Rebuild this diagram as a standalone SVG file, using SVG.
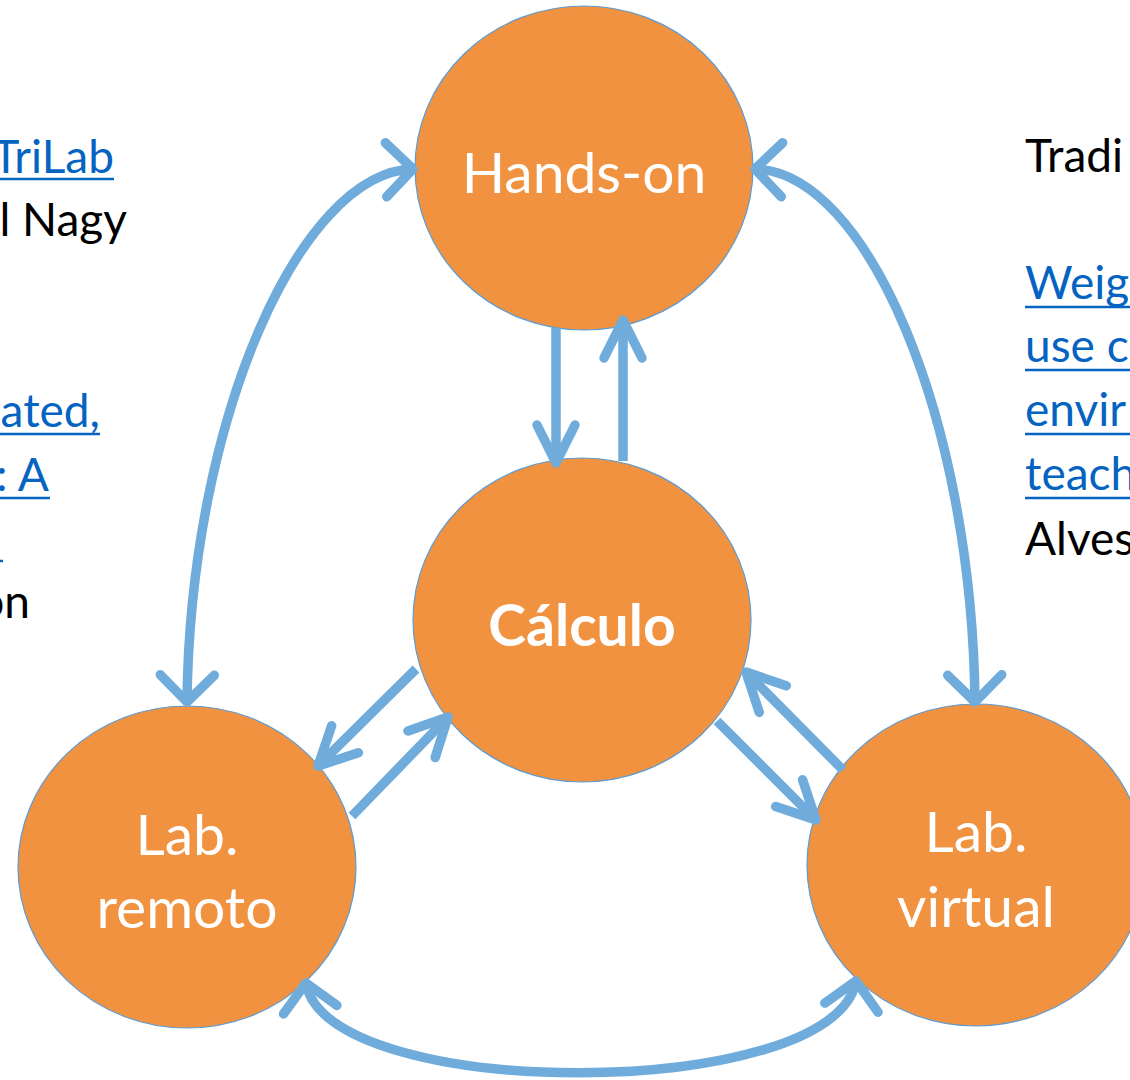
<svg xmlns="http://www.w3.org/2000/svg" width="1130" height="1080" viewBox="0 0 1130 1080">
  <style>
    .node { fill: #F0923F; stroke: #5B9BD5; stroke-width: 1.2; }
    .label { font-family: Lato, "Open Sans", "Liberation Sans", sans-serif; font-size: 57px; fill: #FFFFFF; text-anchor: middle; }
    .bold { font-weight: bold; }
    .link { stroke: #6FACDC; stroke-width: 9.5; fill: none; }
    .side { font-family: Lato, "Open Sans", "Liberation Sans", sans-serif; font-size: 46px; fill: #000000; }
    .ref { fill: #0563C1; }
    .uline { stroke: #0563C1; stroke-width: 2.5; }
  </style>
  <defs>
    <!-- wide open chevron for the curved connectors -->
    <marker id="headCurve" markerUnits="userSpaceOnUse" viewBox="-50 -50 60 100" markerWidth="60" markerHeight="100" refX="0" refY="0" orient="auto-start-reverse" overflow="visible">
      <path d="M -27,-27 L 0,0 L -27,27" fill="none" stroke="#6FACDC" stroke-width="9.5" stroke-linecap="round" stroke-linejoin="round"/>
    </marker>
    <!-- narrow open chevron for the straight connectors -->
    <marker id="headStraight" markerUnits="userSpaceOnUse" viewBox="-50 -50 60 100" markerWidth="60" markerHeight="100" refX="0" refY="0" orient="auto" overflow="visible">
      <path d="M -38,-19 L 0,0 L -38,19" fill="none" stroke="#6FACDC" stroke-width="9.5" stroke-linecap="round" stroke-linejoin="round"/>
    </marker>
  </defs>

  <!-- side text, left column -->
  <g id="text-left">
    <text class="side ref" x="114" y="173" text-anchor="end">TriLab</text>
    <line class="uline" x1="0" y1="179" x2="114" y2="179"/>
    <text class="side" x="127" y="236" text-anchor="end">l Nagy</text>
    <text class="side ref" x="100" y="427" text-anchor="end">ated,</text>
    <line class="uline" x1="0" y1="434" x2="100" y2="434"/>
    <text class="side ref" x="49" y="491" text-anchor="end">: A</text>
    <line class="uline" x1="0" y1="498" x2="50" y2="498"/>
    <line class="uline" x1="0" y1="561" x2="3" y2="561"/>
    <text class="side" x="30" y="618" text-anchor="end">on</text>
  </g>

  <!-- side text, right column -->
  <g id="text-right">
    <text class="side" x="1025" y="172">Tradi</text>
    <text class="side ref" x="1025" y="299">Weig</text>
    <line class="uline" x1="1025" y1="307" x2="1130" y2="307"/>
    <text class="side ref" x="1025" y="362">use c</text>
    <line class="uline" x1="1025" y1="370" x2="1130" y2="370"/>
    <text class="side ref" x="1025" y="426">envir</text>
    <line class="uline" x1="1025" y1="434" x2="1130" y2="434"/>
    <text class="side ref" x="1025" y="490">teach</text>
    <line class="uline" x1="1025" y1="498" x2="1130" y2="498"/>
    <text class="side" x="1025" y="555">Alves</text>
  </g>

  <!-- nodes -->
  <g id="node-hands-on">
    <ellipse class="node" cx="584" cy="168" rx="169" ry="162"/>
    <text class="label" x="584" y="193">Hands-on</text>
  </g>
  <g id="node-calculo">
    <ellipse class="node" cx="582" cy="620" rx="169" ry="162"/>
    <text class="label bold" x="582" y="646">Cálculo</text>
  </g>
  <g id="node-lab-remoto">
    <ellipse class="node" cx="187" cy="867" rx="169" ry="161"/>
    <text class="label" x="187" y="855">Lab.</text>
    <text class="label" x="187" y="928">remoto</text>
  </g>
  <g id="node-lab-virtual">
    <ellipse class="node" cx="976" cy="865" rx="169" ry="161"/>
    <text class="label" x="976" y="852">Lab.</text>
    <text class="label" x="976" y="927">virtual</text>
  </g>

  <!-- connectors -->
  <g id="connectors">
    <path class="link" d="M 413,169 C 300,172 190,420 187,702" marker-start="url(#headCurve)" marker-end="url(#headCurve)"/>
    <path class="link" d="M 755,169 C 868,172 972,420 975,702" marker-start="url(#headCurve)" marker-end="url(#headCurve)"/>
    <path class="link" d="M 306,983 C 325,1103 835,1103 856,981" marker-start="url(#headCurve)" marker-end="url(#headCurve)"/>
    <path class="link" d="M 556,328 L 556,463" marker-end="url(#headStraight)"/>
    <path class="link" d="M 623,461 L 623,320" marker-end="url(#headStraight)"/>
    <path class="link" d="M 416,669 L 318,766" marker-end="url(#headStraight)"/>
    <path class="link" d="M 352,816 L 448,717" marker-end="url(#headStraight)"/>
    <path class="link" d="M 717,721 L 816,820" marker-end="url(#headStraight)"/>
    <path class="link" d="M 843,770 L 746,672" marker-end="url(#headStraight)"/>
  </g>
</svg>
